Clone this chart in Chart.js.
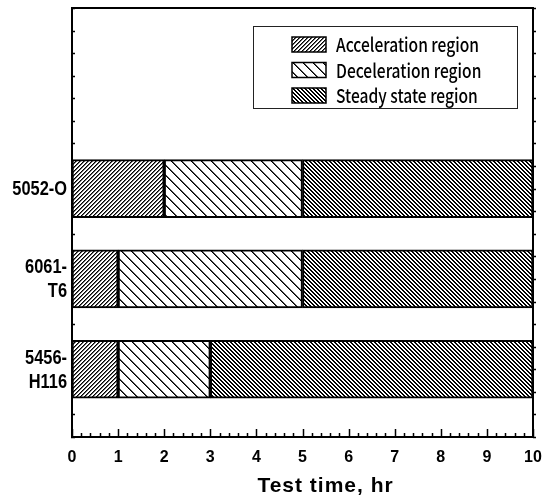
<!DOCTYPE html>
<html>
<head>
<meta charset="utf-8">
<script src="https://cdn.jsdelivr.net/npm/chart.js@4.4.0/dist/chart.umd.min.js"></script>
<style>
  html, body { margin: 0; padding: 0; background: #fff; }
  #wrap { width: 548px; height: 497px; }
</style>
</head>
<body>
<div id="wrap"><canvas id="c" width="548" height="497"></canvas></div>
<script>
// Alloys, top to bottom, and the row each one sits on
const alloys = ['5052-O', '6061-T6', '5456-H116'];
const alloyLabels = [['5052-O'], ['6061-', 'T6'], ['5456-', 'H116']];
const alloyRows = [3, 2, 1];

// Hours spent in each region of the test
const regionNames = ['Acceleration region', 'Deceleration region', 'Steady state region'];
const accelHours = [2, 1, 1];
const decelHours = [3, 4, 2];
const steadyHours = [5, 5, 7];

// Axis settings
const xMin = 0, xMax = 10, xStep = 1, xMinorStep = 0.2;
const yMin = 0.25, yMax = 5, yStep = 0.25;
const xTitle = 'Test time, hr';

const boldSans = '"Liberation Sans", Arial, sans-serif';

// Diagonal hatch tile: dir +1 draws "/", -1 draws "\"
function hatch(period, dir, width) {
  const t = document.createElement('canvas');
  t.width = period; t.height = period;
  const g = t.getContext('2d');
  const img = g.createImageData(period, period);
  for (let y = 0; y < period; y++) {
    for (let x = 0; x < period; x++) {
      const raw = dir > 0 ? (x + y) : (x - y);
      const d = ((raw % period) + period) % period;
      const a = Math.max(0, Math.min(1, width - d));
      const v = Math.round(255 * (1 - a));
      const i = (y * period + x) * 4;
      img.data[i] = v; img.data[i + 1] = v; img.data[i + 2] = v; img.data[i + 3] = 255;
    }
  }
  g.putImageData(img, 0, 0);
  return g.createPattern(t, 'repeat');
}

const fills = [hatch(4, 1, 1.6), hatch(10, -1, 1.7), hatch(4, -1, 2.0)];
const series = [accelHours, decelHours, steadyHours];

const datasets = series.map((vals, k) => ({
  label: regionNames[k],
  data: vals.map((v, i) => ({ x: v, y: alloyRows[i] })),
  backgroundColor: fills[k],
  borderColor: '#000',
  borderWidth: 2,
  borderSkipped: false,
  barThickness: 58
}));

// Frame and tick marks
const frameTicks = {
  id: 'frameTicks',
  beforeDatasetsDraw(chart) {
    const { ctx, chartArea: a, scales: { y } } = chart;
    ctx.save();
    ctx.strokeStyle = '#000';
    ctx.lineWidth = 1.5;
    ctx.beginPath();
    const n = Math.round((yMax - yMin) / yStep);
    for (let i = 0; i <= n; i++) {
      const py = Math.round(y.getPixelForValue(yMin + i * yStep)) + 0.5;
      ctx.moveTo(a.left - 1, py); ctx.lineTo(a.left + 3, py);
      ctx.moveTo(a.right, py); ctx.lineTo(a.right + 3, py);
    }
    ctx.stroke();
    ctx.restore();
  },
  afterDatasetsDraw(chart) {
    const { ctx, chartArea: a, scales: { x } } = chart;
    ctx.save();
    ctx.strokeStyle = '#000';
    ctx.lineWidth = 1.5;
    ctx.beginPath();
    const n = Math.round((xMax - xMin) / xMinorStep);
    const every = Math.round(xStep / xMinorStep);
    for (let i = 0; i <= n; i++) {
      const px = Math.round(x.getPixelForValue(xMin + i * xMinorStep)) + 0.5;
      ctx.moveTo(px, a.bottom);
      ctx.lineTo(px, a.bottom - (i % every === 0 ? 8 : 4));
    }
    ctx.stroke();
    ctx.lineWidth = 2;
    ctx.strokeRect(a.left, a.top, a.right - a.left, a.bottom - a.top);
    ctx.restore();
  }
};

// Category names beside each bar (condensed bold) and the x-axis title
const axisText = {
  id: 'axisText',
  afterDraw(chart) {
    const { ctx, chartArea: a, scales: { x, y } } = chart;
    ctx.save();
    ctx.fillStyle = '#000';
    ctx.font = 'bold 20px ' + boldSans;
    ctx.textBaseline = 'middle';
    ctx.textAlign = 'right';
    const lh = 24;
    alloyLabels.forEach((lines, i) => {
      const cy = y.getPixelForValue(alloyRows[i]);
      lines.forEach((s, j) => {
        const ly = cy + (j - (lines.length - 1) / 2) * lh;
        ctx.save();
        ctx.translate(a.left - 5, ly + 1);
        ctx.scale(0.82, 1);
        ctx.fillText(s, 0, 0);
        ctx.restore();
      });
    });
    ctx.font = 'bold 21px ' + boldSans;
    ctx.letterSpacing = '1px';
    ctx.textAlign = 'center';
    ctx.textBaseline = 'alphabetic';
    ctx.fillText(xTitle, x.getPixelForValue(5.5), a.bottom + 55);
    ctx.restore();
  }
};

// Boxed legend inside the plot, upper right
const boxLegend = {
  id: 'boxLegend',
  afterDraw(chart) {
    const { ctx, chartArea: a } = chart;
    const w = 264, h = 82;
    const bx = a.right - 16 - w, by = a.top + 18;
    ctx.save();
    ctx.fillStyle = '#fff';
    ctx.fillRect(bx, by, w, h);
    ctx.strokeStyle = '#222';
    ctx.lineWidth = 1;
    ctx.strokeRect(bx + 0.5, by + 0.5, w, h);
    chart.data.datasets.forEach((ds, i) => {
      const sy = by + 11 + i * 25.5;
      const sx = bx + 39;
      ctx.fillStyle = ds.backgroundColor;
      ctx.fillRect(sx, sy, 34, 15);
      ctx.strokeStyle = '#000';
      ctx.lineWidth = 1.5;
      ctx.strokeRect(sx, sy, 34, 15);
      ctx.save();
      ctx.translate(sx + 44, sy + 8);
      ctx.scale(0.82, 1);
      ctx.fillStyle = '#000';
      ctx.font = '500 19px "Noto Sans CJK KR", "Noto Sans", sans-serif';
      ctx.textBaseline = 'middle';
      ctx.fillText(ds.label, 0, 0);
      ctx.restore();
    });
    ctx.restore();
  }
};

new Chart(document.getElementById('c'), {
  type: 'bar',
  data: { datasets },
  options: {
    indexAxis: 'y',
    responsive: false,
    animation: false,
    layout: { padding: { top: 8, right: 15, left: 0, bottom: 0 } },
    plugins: { legend: { display: false }, tooltip: { enabled: false } },
    scales: {
      x: {
        type: 'linear', min: xMin, max: xMax, stacked: true,
        grid: { display: false, drawTicks: false },
        border: { display: false },
        ticks: {
          stepSize: xStep, color: '#000', padding: 11,
          font: { family: boldSans, size: 16, weight: 'bold' }
        },
        afterFit(s) { s.height = 60; s.paddingLeft = 0; s.paddingRight = 0; }
      },
      y: {
        type: 'linear', min: yMin, max: yMax, stacked: true, offset: false,
        grid: { display: false, drawTicks: false, offset: false },
        border: { display: false },
        ticks: { display: false, stepSize: yStep },
        afterFit(s) { s.width = 72; s.paddingTop = 0; s.paddingBottom = 0; }
      }
    }
  },
  plugins: [frameTicks, axisText, boxLegend]
});
</script>
</body>
</html>
